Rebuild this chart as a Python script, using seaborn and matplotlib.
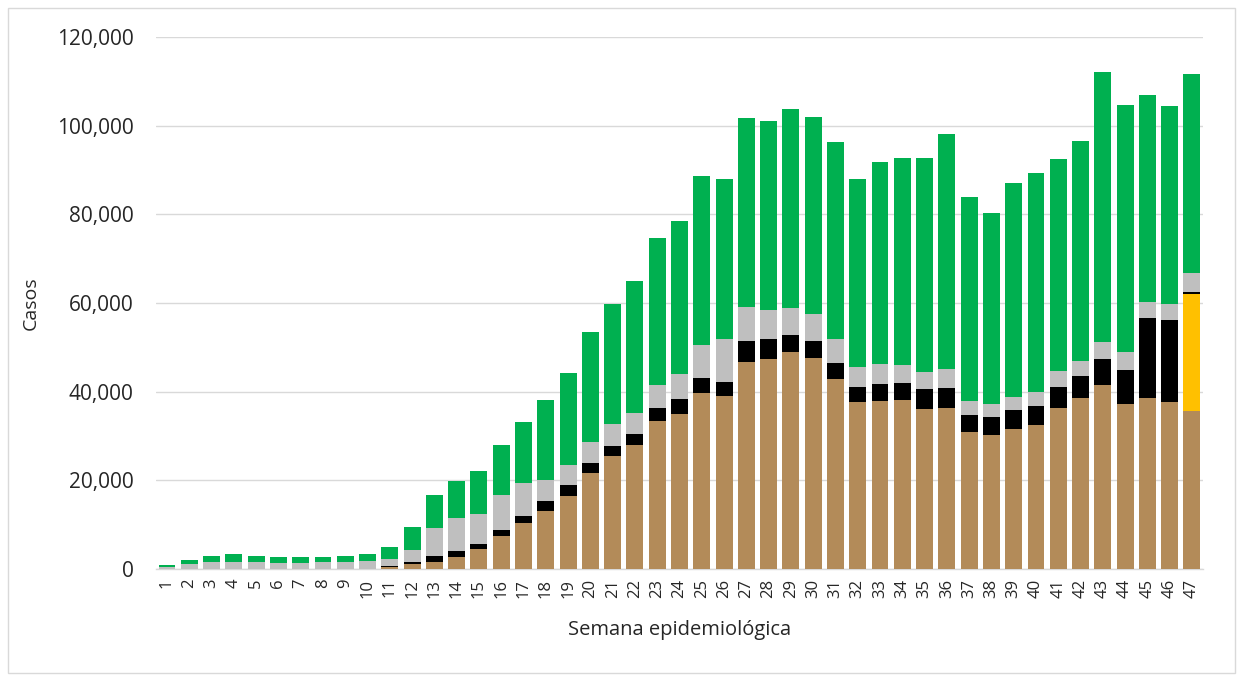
import matplotlib
matplotlib.use("Agg")
import matplotlib.pyplot as plt
import matplotlib.ticker as mticker
from matplotlib.patches import Rectangle
import numpy as np
import pandas as pd
import seaborn as sns

weeks = [str(i) for i in range(1, 48)]

tan = [0, 0, 0, 0, 0, 0, 0, 0, 0, 0,
       450, 1100, 1580, 2700, 4580, 7440, 10300, 13160, 16390, 21730,
       25560, 28040, 33380, 35040, 39770, 39100, 46620, 47370, 48870, 47670,
       42860, 37670, 37890, 38120, 36170, 36390, 30920, 30310, 31600, 32440,
       36410, 38550, 41530, 37180, 38550, 37560, 35650]
yellow = [0] * 46 + [26330]
black = [0, 0, 0, 0, 0, 0, 0, 0, 0, 0,
         300, 500, 1350, 1360, 990, 1360, 1730, 2180, 2630, 2100,
         2260, 2410, 2870, 3310, 3310, 3150, 4730, 4430, 3840, 3680,
         3610, 3310, 3760, 3760, 4360, 4360, 3740, 3890, 4200, 4280,
         4740, 4890, 5870, 7780, 18010, 18700, 540]
gray = [500, 1050, 1600, 1600, 1600, 1450, 1450, 1600, 1600, 1800,
        1450, 2600, 6250, 7370, 6830, 7960, 7300, 4660, 4440, 4890,
        4890, 4740, 5250, 5640, 7370, 9560, 7820, 6620, 6090, 6170,
        5330, 4660, 4590, 4140, 3980, 4360, 3280, 2980, 3050, 3280,
        3510, 3430, 3820, 4050, 3670, 3430, 4200]
green = [400, 1050, 1400, 1700, 1300, 1350, 1350, 1200, 1400, 1500,
         2700, 5300, 7580, 8420, 9700, 11210, 13830, 18120, 20680, 24740,
         27060, 29700, 33100, 34570, 38130, 36090, 42630, 42630, 44890, 44510,
         44520, 42260, 45560, 46690, 48200, 52940, 46030, 43200, 48250, 49310,
         47780, 49690, 60880, 55720, 46770, 44810, 44860]

series = [("tan", tan, "#B38B59"), ("yellow", yellow, "#FFC000"),
          ("black", black, "#000000"), ("gray", gray, "#BFBFBF"),
          ("green", green, "#00B050")]

sns.set_theme(style="white")
plt.rcParams["font.family"] = ["Open Sans", "DejaVu Sans"]

fig = plt.figure(figsize=(12.38, 6.75), dpi=100)
ax = fig.add_axes([0.1259, 0.157, 0.8459, 0.7882])

# cumulative stacks, drawn from the top layer down
cum = []
running = np.zeros(len(weeks))
for name, vals, col in series:
    running = running + np.array(vals, dtype=float)
    cum.append((name, running.copy(), col))

for name, heights, col in reversed(cum):
    df = pd.DataFrame({"week": weeks, "value": heights})
    sns.barplot(data=df, x="week", y="value", order=weeks, color=col,
                saturation=1, width=0.76, linewidth=0, ax=ax, zorder=3)

ax.set_ylim(0, 120000)
ax.set_xlim(-0.5, len(weeks) - 0.5)
ax.yaxis.set_major_locator(mticker.MultipleLocator(20000))
ax.yaxis.set_major_formatter(mticker.FuncFormatter(lambda v, p: f"{int(v):,}"))
ax.grid(axis="y", color="#D9D9D9", linewidth=1, zorder=0)
ax.grid(axis="x", visible=False)
for s in ["top", "right", "left"]:
    ax.spines[s].set_visible(False)
ax.spines["bottom"].set_color("#D9D9D9")
ax.spines["bottom"].set_linewidth(1)
ax.tick_params(axis="y", length=0, pad=16, labelsize=15, labelcolor="#262626")
ax.tick_params(axis="x", length=0, pad=7, labelsize=12, labelcolor="#262626",
               labelrotation=90)
ax.set_xlabel("Semana epidemiológica", fontsize=14.5, color="#262626", labelpad=16)
ax.set_ylabel("Casos", fontsize=14, color="#262626", labelpad=12)

fig.patches.append(Rectangle((0.0065, 0.003), 0.991, 0.985, transform=fig.transFigure,
                             fill=False, edgecolor="#D9D9D9", linewidth=1))

fig.savefig("out.png", dpi=100, facecolor="white")
